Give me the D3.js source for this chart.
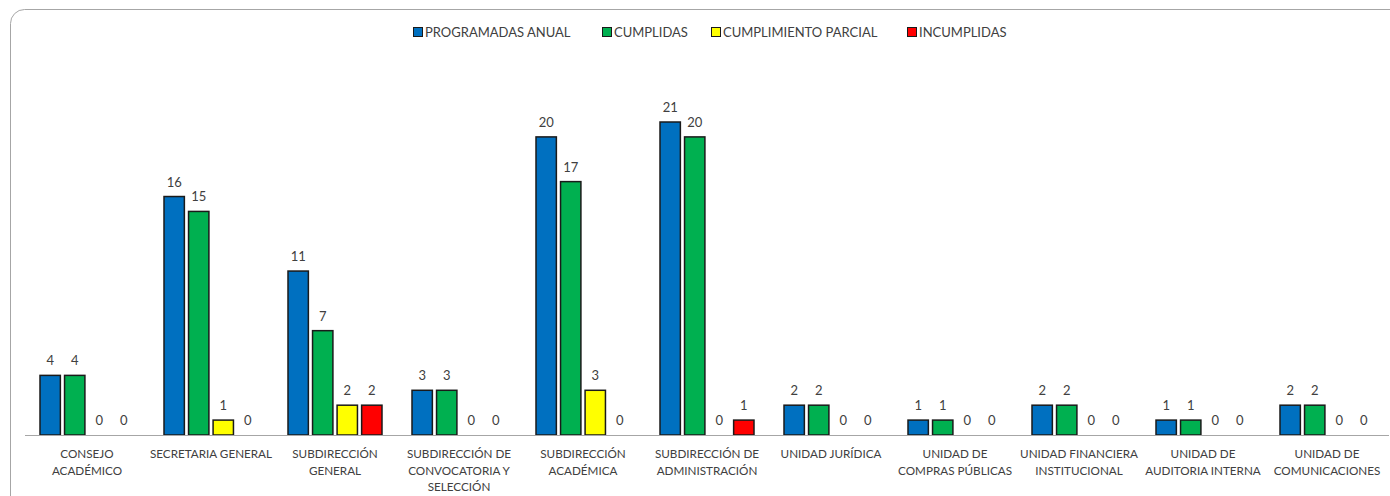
<!DOCTYPE html>
<html lang="es">
<head>
<meta charset="UTF-8">
<title>Cumplimiento por dependencia</title>
<script src="https://d3js.org/d3.v7.min.js"></script>
<style>
  html, body { margin: 0; padding: 0; background: #fff; }
  svg text { font-family: "Lato", "Open Sans", sans-serif; fill: #404040; }
</style>
</head>
<body>
<div id="chart"></div>
<script>
// categories, line breaks marked with "|"
var categories = [
  'CONSEJO|ACADÉMICO',
  'SECRETARIA GENERAL',
  'SUBDIRECCIÓN|GENERAL',
  'SUBDIRECCIÓN DE|CONVOCATORIA Y|SELECCIÓN',
  'SUBDIRECCIÓN|ACADÉMICA',
  'SUBDIRECCIÓN DE|ADMINISTRACIÓN',
  'UNIDAD JURÍDICA',
  'UNIDAD DE|COMPRAS PÚBLICAS',
  'UNIDAD FINANCIERA|INSTITUCIONAL',
  'UNIDAD DE|AUDITORIA INTERNA',
  'UNIDAD DE|COMUNICACIONES'
];
var seriesNames = ['PROGRAMADAS ANUAL', 'CUMPLIDAS', 'CUMPLIMIENTO PARCIAL', 'INCUMPLIDAS'];
var seriesColors = ['#0070C0', '#00B050', '#FFFF00', '#FF0000'];
var programadas = [4, 16, 11, 3, 20, 21, 2, 1, 2, 1, 2];
var cumplidas   = [4, 15, 7, 3, 17, 20, 2, 1, 2, 1, 2];
var parcial     = [0, 1, 2, 0, 3, 0, 0, 0, 0, 0, 0];
var incumplidas = [0, 0, 2, 0, 0, 1, 0, 0, 0, 0, 0];
var seriesValues = [programadas, cumplidas, parcial, incumplidas];

var width = 1390, height = 496;
var baseY = 435;

var svg = d3.select('#chart').append('svg')
  .attr('width', width)
  .attr('height', height);

// chart frame (cropped at right and bottom)
svg.append('rect')
  .attr('x', 10.5).attr('y', 9.5)
  .attr('width', 1420).attr('height', 520)
  .attr('rx', 14)
  .attr('fill', 'none')
  .attr('stroke', '#a6a6a6')
  .attr('stroke-width', 1);

var x0 = d3.scaleBand().domain(d3.range(categories.length)).range([25, 1389]);
var x1 = d3.scaleBand().domain(d3.range(seriesNames.length))
  .range([15, 109]).paddingInner(0.17);
var y = d3.scaleLinear().domain([0, 21]).range([baseY, 122]);

var rows = [];
categories.forEach(function(c, i) {
  seriesValues.forEach(function(vals, s) {
    rows.push({ cat: i, s: s, v: vals[i] });
  });
});

var g = svg.append('g');

g.selectAll('rect.bar')
  .data(rows.filter(function(d) { return d.v > 0; }))
  .enter().append('rect')
  .attr('class', 'bar')
  .attr('x', function(d) { return x0(d.cat) + x1(d.s); })
  .attr('y', function(d) { return y(d.v); })
  .attr('width', x1.bandwidth())
  .attr('height', function(d) { return baseY - y(d.v); })
  .attr('fill', function(d) { return seriesColors[d.s]; })
  .attr('stroke', '#1a1a1a')
  .attr('stroke-width', 1.5);

g.selectAll('text.val')
  .data(rows)
  .enter().append('text')
  .attr('class', 'val')
  .attr('x', function(d) { return x0(d.cat) + x1(d.s) + x1.bandwidth() / 2; })
  .attr('y', function(d) { return y(d.v) - 10; })
  .attr('text-anchor', 'middle')
  .attr('font-size', 13)
  .text(function(d) { return d.v; });

// axis line
svg.append('line')
  .attr('x1', 25).attr('x2', 1389)
  .attr('y1', baseY + 0.5).attr('y2', baseY + 0.5)
  .attr('stroke', '#a6a6a6').attr('stroke-width', 1);

// category labels
var labels = svg.selectAll('text.cat')
  .data(categories)
  .enter().append('text')
  .attr('class', 'cat')
  .attr('text-anchor', 'middle')
  .attr('font-size', 11.7)
  .attr('transform', function(d, i) { return 'translate(' + (x0(i) + x0.bandwidth() / 2) + ',458)'; });
labels.selectAll('tspan')
  .data(function(d) { return d.split('|'); })
  .enter().append('tspan')
  .attr('x', 0)
  .attr('dy', function(d, i) { return i === 0 ? 0 : 16.5; })
  .text(function(d) { return d; });

// legend
var legendX = [413, 602, 711, 907];
var legend = svg.selectAll('g.leg')
  .data(seriesNames)
  .enter().append('g')
  .attr('class', 'leg')
  .attr('transform', function(d, i) { return 'translate(' + legendX[i] + ',27)'; });
legend.append('rect')
  .attr('x', 0.5).attr('y', 0.5)
  .attr('width', 9).attr('height', 9)
  .attr('fill', function(d, i) { return seriesColors[i]; })
  .attr('stroke', '#1a1a1a').attr('stroke-width', 1);
legend.append('text')
  .attr('x', 12).attr('y', 10)
  .attr('font-size', 13)
  .text(function(d) { return d; });
</script>
</body>
</html>
